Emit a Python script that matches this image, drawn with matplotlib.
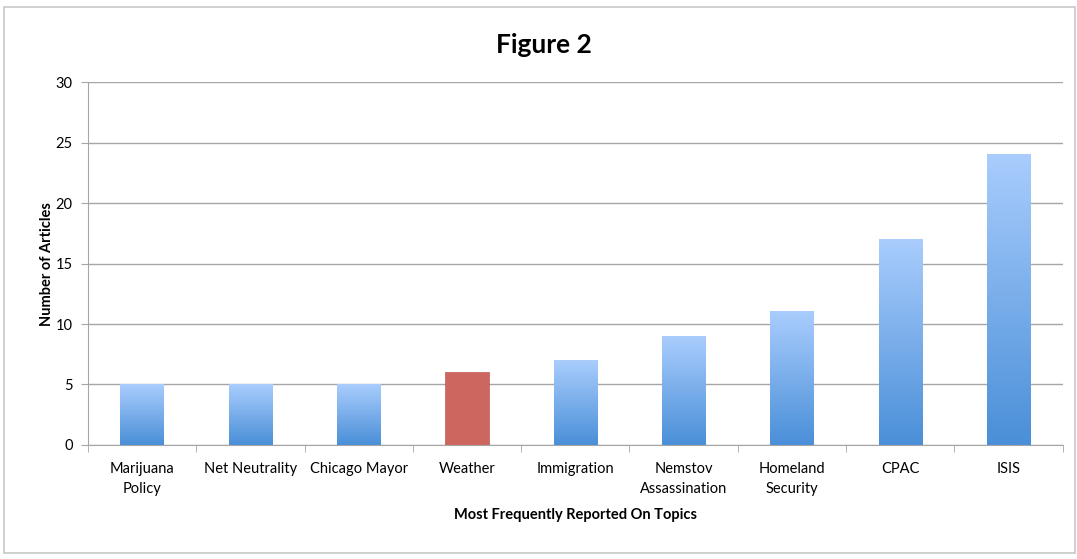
import numpy as np
import matplotlib.pyplot as plt
from matplotlib.patches import Rectangle
from matplotlib.colors import LinearSegmentedColormap

topics = ["Marijuana\nPolicy", "Net Neutrality", "Chicago Mayor", "Weather", "Immigration",
          "Nemstov\nAssassination", "Homeland\nSecurity", "CPAC", "ISIS"]
articles = [5, 5, 5, 6, 7, 9, 11, 17, 24]
highlight = "Weather"
yticks = [0, 5, 10, 15, 20, 25, 30]

plt.rcParams['font.family'] = ['Lato', 'DejaVu Sans']

fig = plt.figure(figsize=(10.77, 5.59), dpi=100)
ax = fig.add_axes([0.0817, 0.204, 0.905, 0.649])

# light frame round the whole chart
fig.patches.append(Rectangle((0.004, 0.01), 0.994, 0.978, transform=fig.transFigure,
                             fill=False, edgecolor='#c8c8c8', lw=1.2))

x = np.arange(len(topics))
bars = ax.bar(x, articles, width=0.4, color='none', edgecolor='none', zorder=3)

blue = LinearSegmentedColormap.from_list('blue', ['#4a8fd8', '#a9cdfd'])
grad = np.linspace(0, 1, 256).reshape(-1, 1)
for b, name in zip(bars, topics):
    x0, w, h = b.get_x(), b.get_width(), b.get_height()
    if name == highlight:
        ax.add_patch(Rectangle((x0, 0), w, h, facecolor='#cd665f', edgecolor='#c05a55', lw=0.5, zorder=3))
    else:
        ax.imshow(grad, extent=(x0, x0 + w, 0, h), origin='lower', cmap=blue,
                  aspect='auto', zorder=3)

ax.set_xlim(-0.5, len(topics) - 0.5)
ax.set_ylim(0, 30)
ax.set_yticks(yticks)
ax.yaxis.grid(True, color='#a6a6a6', lw=1)
ax.set_axisbelow(True)

ax.set_xticks(x)
ax.set_xticklabels(topics, fontsize=10.5, linespacing=1.55)
ax.set_xticks(np.arange(len(topics) + 1) - 0.5, minor=True)
ax.tick_params(axis='x', which='major', length=0, pad=12)
ax.tick_params(axis='x', which='minor', length=5, color='#a6a6a6')
ax.tick_params(axis='y', length=5, color='#a6a6a6', labelsize=10.5, pad=6)

for s in ['top', 'right']:
    ax.spines[s].set_visible(False)
for s in ['left', 'bottom']:
    ax.spines[s].set_color('#a6a6a6')

ax.set_ylabel("Number of Articles", fontsize=10.5, fontweight='bold', labelpad=1)
ax.set_xlabel("Most Frequently Reported On Topics", fontsize=10.5, fontweight='bold', labelpad=9)
fig.text(0.505, 0.919, "Figure 2", ha='center', va='center', fontsize=19, fontweight='bold')

fig.savefig("out.png", dpi=100)
